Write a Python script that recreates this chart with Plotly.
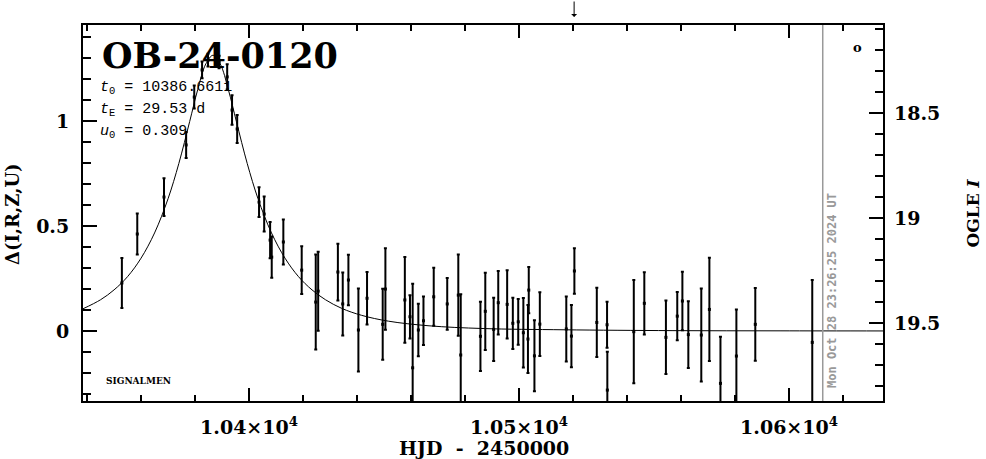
import plotly.graph_objects as go

# ---- data (HJD - 2450000, Delta mag, error) ----
hjd = [10352.9, 10358.6, 10368.5, 10376.7, 10379.7, 10382.6, 10384.8, 10388.9, 10391.9, 10393.7,
       10395.6, 10403.7, 10405.6, 10407.8, 10408.4, 10412.7, 10419.5, 10424.7, 10425.6, 10432.9,
       10434.7, 10436.8, 10440.5, 10443.7, 10449.5, 10450.5, 10457.7, 10459.6, 10460.6, 10462.7,
       10464.6, 10468.4, 10473.4, 10477.5, 10478.4, 10485.7, 10487.5, 10490.6, 10492.3, 10495.6,
       10497.7, 10499.7, 10501.6, 10503.6, 10503.3, 10505.7, 10507.7, 10517.5, 10519.4, 10520.5,
       10528.8, 10532.6, 10532.7, 10542.5, 10546.4, 10554.4, 10558.6, 10560.5, 10562.7, 10567.5,
       10570.5, 10574.6, 10580.5, 10587.5, 10608.6]
delta = [0.229, 0.462, 0.638, 0.886, 1.114, 1.243, 1.290, 1.281, 1.210, 1.052,
         0.962, 0.614, 0.557, 0.433, 0.352, 0.424, 0.290, 0.138, 0.190, 0.281,
         0.129, 0.243, 0.005, 0.156, 0.032, 0.200, 0.148, 0.068, -0.175, 0.005,
         0.049, 0.163, 0.129, 0.171, -0.114, -0.025, 0.094, 0.008, 0.135, 0.127,
         0.037, 0.044, -0.008, 0.195, -0.038, -0.118, 0.033, 0.010, -0.024, 0.286,
         0.041, 0.030, -0.281, -0.003, 0.132, -0.030, 0.071, 0.143, -0.017, -0.019,
         0.103, -0.249, -0.119, 0.032, -0.054]
err = [0.119, 0.098, 0.090, 0.062, 0.055, 0.040, 0.030, 0.030, 0.060, 0.070,
       0.067, 0.071, 0.083, 0.086, 0.098, 0.107, 0.114, 0.226, 0.188, 0.135,
       0.150, 0.120, 0.198, 0.125, 0.169, 0.194, 0.204, 0.103, 0.400, 0.125,
       0.115, 0.138, 0.123, 0.193, 0.289, 0.165, 0.184, 0.151, 0.151, 0.163,
       0.122, 0.109, 0.165, 0.110, 0.162, 0.169, 0.152, 0.155, 0.148, 0.108,
       0.165, 0.110, 0.182, 0.246, 0.148, 0.175, 0.115, 0.139, 0.159, 0.221,
       0.246, 0.222, 0.222, 0.173, 0.297]

# model curve
model_t = [10338.5, 10345, 10350, 10355, 10360, 10365, 10370, 10374, 10378, 10381, 10384,
           10386.66, 10389.32, 10392.32, 10395.32, 10399.32, 10403.32, 10408.32, 10413.32,
           10418.32, 10423.32, 10428.32, 10434.32, 10441.66, 10451.66, 10466.66, 10486.66,
           10516.66, 10556.66, 10596.66, 10634.8]
model_d = [0.106, 0.149, 0.196, 0.259, 0.347, 0.467, 0.630, 0.798, 0.997, 1.150, 1.272,
           1.313, 1.272, 1.150, 0.997, 0.798, 0.630, 0.467, 0.347,
           0.259, 0.196, 0.149, 0.108, 0.075, 0.047, 0.025, 0.012,
           0.006, 0.002, 0.001, 0.0005]

x_ticks = [10400, 10500, 10600]
x_ticktext = ["1.04×10<sup>4</sup>", "1.05×10<sup>4</sup>", "1.06×10<sup>4</sup>"]
y_ticks = [0, 0.5, 1]
y_ticktext = ["0", "0.5", "1"]
y2_ticks = [18.5, 19, 19.5]
y2_ticktext = ["18.5", "19", "19.5"]

event_name = "OB-24-0120"
params = ["<i>t</i><sub>0</sub> = 10386.6611",
          "<i>t</i><sub>E</sub> = 29.53 d",
          "<i>u</i><sub>0</sub> = 0.309"]
now_hjd = 10612.48
arrow_hjd = 10520.4

XR = [10338.5, 10634.8]
YR = [-0.333, 1.457]
I_BASE = 19.538

SERIF = "DejaVu Serif"

fig = go.Figure()
fig.add_trace(go.Scatter(x=model_t, y=model_d, mode="lines", line=dict(color="black", width=1, shape="spline"),
                         hoverinfo="skip", showlegend=False))
fig.add_trace(go.Scatter(x=hjd, y=delta, mode="markers",
                         marker=dict(color="black", size=3, symbol="square"),
                         error_y=dict(type="data", array=err, visible=True, thickness=2, width=1.5, color="black"),
                         showlegend=False))
# invisible trace for y2
fig.add_trace(go.Scatter(x=[XR[0]], y=[19.0], yaxis="y2", mode="markers", marker=dict(opacity=0),
                         showlegend=False, hoverinfo="skip"))

fig.add_shape(type="line", xref="x", yref="paper", x0=now_hjd, x1=now_hjd, y0=0, y1=1,
              line=dict(color="#999999", width=1.5))

tickfont = dict(family=SERIF, size=19, color="black", weight="bold")

fig.update_layout(
    width=986, height=459,
    margin=dict(l=83, r=103, t=25, b=58),
    paper_bgcolor="white", plot_bgcolor="white",
    xaxis=dict(range=XR, showgrid=False, zeroline=False, showline=True, linewidth=2, linecolor="black",
               mirror="ticks", ticks="inside", ticklen=13, tickwidth=2, tickcolor="black",
               tickvals=x_ticks, ticktext=x_ticktext, tickfont=tickfont, ticklabelstandoff=8,
               minor=dict(dtick=20, tick0=10400, ticks="inside", ticklen=6, tickwidth=2, tickcolor="black")),
    yaxis=dict(range=YR, showgrid=False, zeroline=False, showline=True, linewidth=2, linecolor="black",
               mirror=True, ticks="inside", ticklen=14, tickwidth=2, tickcolor="black",
               tickvals=y_ticks, ticktext=y_ticktext, tickfont=tickfont, ticklabelstandoff=8,
               minor=dict(dtick=0.1, tick0=0, ticks="inside", ticklen=8, tickwidth=2, tickcolor="black")),
    yaxis2=dict(overlaying="y", side="right", range=[I_BASE - YR[0], I_BASE - YR[1]],
                showgrid=False, zeroline=False, showline=False, ticks="inside", ticklen=14, tickwidth=2,
                tickcolor="black", tickvals=y2_ticks, ticktext=y2_ticktext, tickfont=tickfont,
                ticklabelstandoff=10,
                minor=dict(dtick=0.1, tick0=18, ticks="inside", ticklen=8, tickwidth=2, tickcolor="black")),
)

ann = []
ann.append(dict(text=f"<b>{event_name}</b>", xref="paper", yref="paper", x=0.021, y=0.9176,
                xanchor="left", yanchor="middle", showarrow=False,
                font=dict(family=SERIF, size=35, color="black")))
for i, p in enumerate(params):
    ann.append(dict(text=p, xref="paper", yref="paper", x=0.019, y=[0.8324, 0.7739, 0.7154][i],
                    xanchor="left", yanchor="middle", showarrow=False,
                    font=dict(family="Liberation Mono", size=15, color="black")))
ann.append(dict(text="SIGNALMEN", xref="paper", yref="paper", x=0.026, y=0.0532, xanchor="left",
                yanchor="middle", showarrow=False, font=dict(family=SERIF, size=9, color="black", weight="bold")))
ann.append(dict(text="Δ(I,R,Z,U)", xref="paper", yref="paper", x=-0.0888, y=0.497, textangle=-90,
                xanchor="center", yanchor="middle", showarrow=False,
                font=dict(family=SERIF, size=18, color="black", weight="bold")))
ann.append(dict(text="OGLE <i>I</i>", xref="paper", yref="paper", x=1.112, y=0.5, textangle=-90,
                xanchor="center", yanchor="middle", showarrow=False,
                font=dict(family=SERIF, size=17, color="black", weight="bold")))
ann.append(dict(text="HJD  -  2450000", xref="paper", yref="paper", x=0.501, y=-0.125,
                xanchor="center", yanchor="middle", showarrow=False,
                font=dict(family=SERIF, size=19, color="black", weight="bold")))
ann.append(dict(text="Mon Oct 28 23:26:25 2024 UT", xref="x", yref="y", x=now_hjd + 3.4, y=0.195,
                textangle=-90, xanchor="center", yanchor="middle", showarrow=False,
                font=dict(family="DejaVu Sans Mono", size=12, color="#999999", weight="bold")))
ann.append(dict(text="<b>o</b>", xref="x", yref="y", x=10625.2, y=1.352, showarrow=False,
                xanchor="center", yanchor="middle", font=dict(family=SERIF, size=13, color="black")))
ann.append(dict(text="", xref="x", yref="paper", x=arrow_hjd, y=1.0213, showarrow=True, ax=0, ay=-17,
                arrowhead=1, arrowsize=1, arrowwidth=1, arrowcolor="black"))
fig.update_layout(annotations=ann)

fig.write_html("out.html", config={"displayModeBar": False},
               post_script="document.body.style.margin='0';document.body.style.padding='0';")
